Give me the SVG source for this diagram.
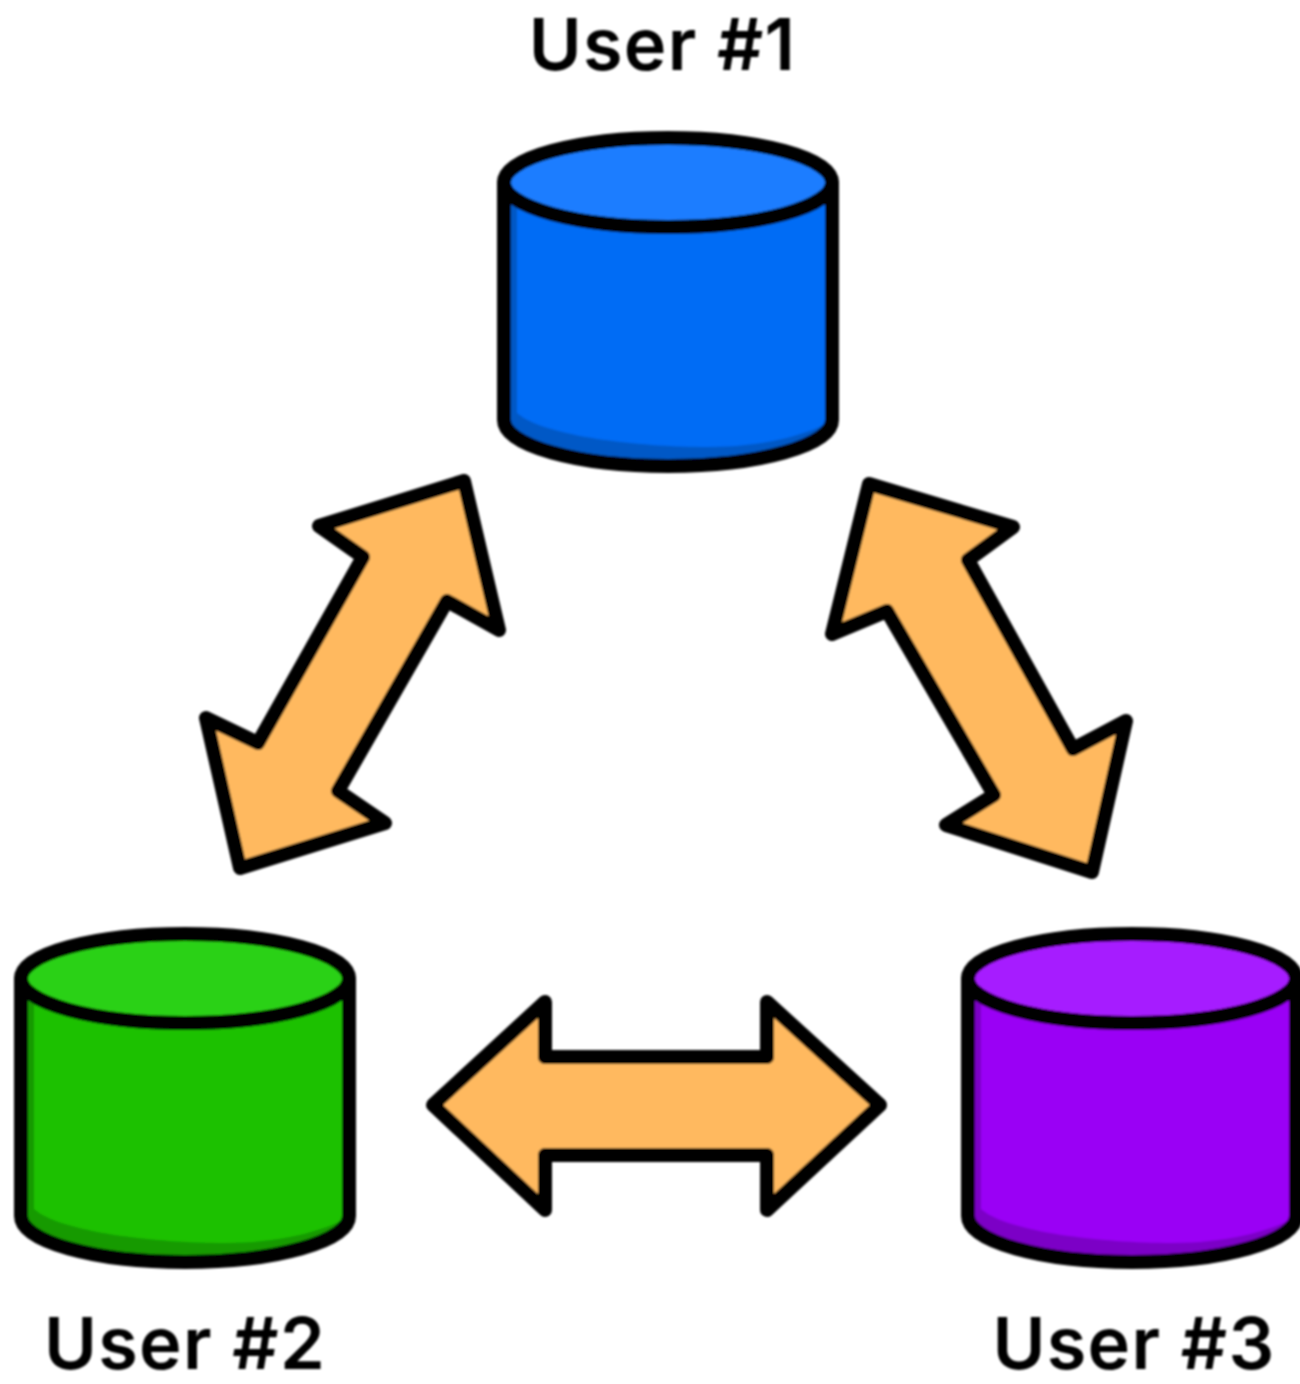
<svg xmlns="http://www.w3.org/2000/svg" width="1300" height="1384" viewBox="0 0 1300 1384">
<style>
.ol{stroke:#000;stroke-width:14;stroke-linejoin:round;stroke-linecap:round}
.arrow{fill:#FFB95E}
.label{font-family:Inter,"Liberation Sans",sans-serif;font-weight:600;font-size:72px;letter-spacing:1.3px;fill:#000;text-anchor:middle}
.shade{fill:var(--shade)}.body{fill:var(--body)}.top{fill:var(--top)}
.none{fill:none}
</style>
<defs>
<filter id="soft" filterUnits="userSpaceOnUse" x="0" y="0" width="1300" height="1384"><feGaussianBlur stdDeviation="0.8"/></filter>
<g id="cyl">
<path class="shade" d="M-164 2V239A164 46 0 0 0 164 239V2Z"/>
<path class="body" d="M-151 2V232C-125 255 -30 266 40 266C90 266 140 255 164 239V2Z"/>
<path class="none ol" d="M-164 2V239A164 46 0 0 0 164 239V2"/>
<ellipse class="top ol" cx="0" cy="1.5" rx="164" ry="44.5"/>
</g>
</defs>
<rect width="1300" height="1384" fill="#fff"/>
<g filter="url(#soft)">
<g id="connectors">
<path id="arrow-1-2" class="arrow ol" d="M464 481L499 630L447 601L338 791L385 823L240 868L206 718L258 743L363 557L319 526Z"/>
<path id="arrow-1-3" class="arrow ol" d="M869 484L1013 527L968 560L1073 749L1126 721L1092 872L946 825L994 795L887 611L832 634Z"/>
<path id="arrow-2-3" class="arrow ol" d="M433 1105L545 1002V1057H767V1002L880 1105L767 1210V1155H545V1210Z"/>
</g>
<g id="user-1" style="--body:#006CF5;--top:#1E7DFF;--shade:#0058C6">
<use href="#cyl" x="668" y="181"/>
<text class="label" x="662.5" y="70">User #1</text>
</g>
<g id="user-2" style="--body:#1CC105;--top:#2AD112;--shade:#169A04">
<use href="#cyl" x="185" y="977"/>
<text class="label" x="185" y="1369">User #2</text>
</g>
<g id="user-3" style="--body:#9A00F5;--top:#A61EFF;--shade:#7C00C6">
<use href="#cyl" x="1132" y="977"/>
<text class="label" x="1134" y="1369">User #3</text>
</g>
</g>
</svg>
